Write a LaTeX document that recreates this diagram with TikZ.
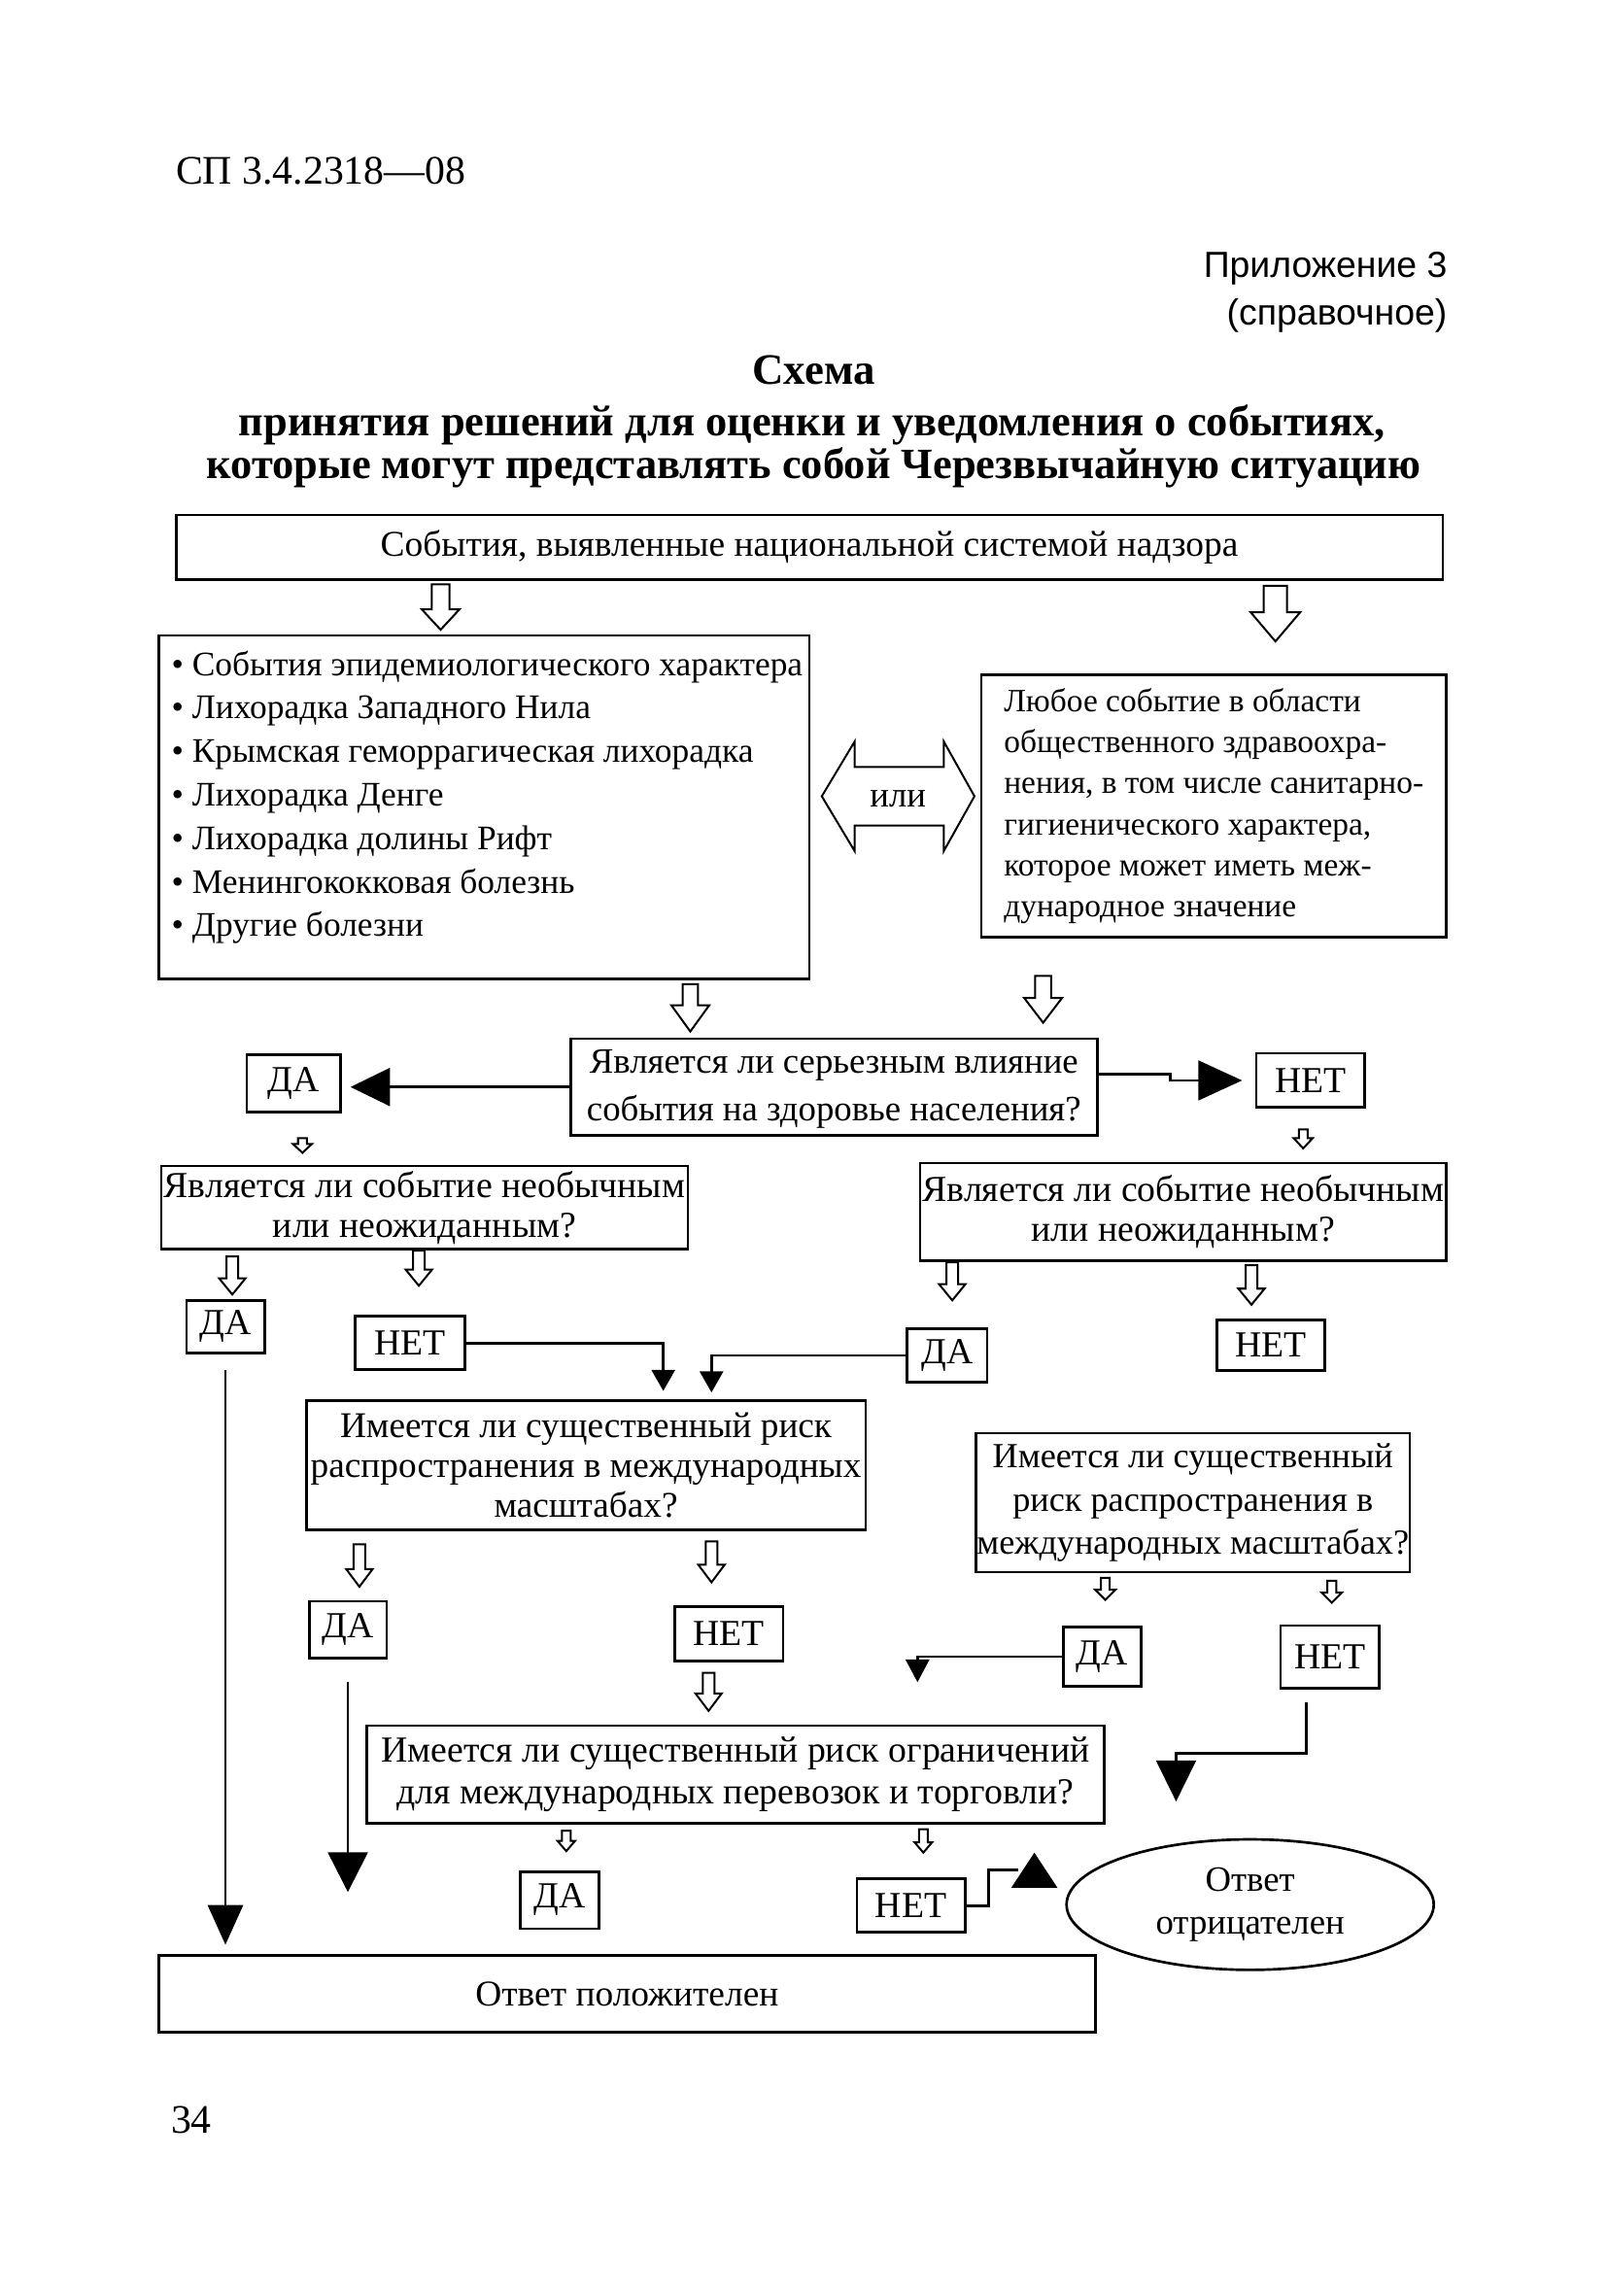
\documentclass[tikz,border=0pt]{standalone}
\usepackage{fontspec}
\setmainfont{Liberation Serif}
\newfontfamily\sansf{Liberation Sans}
\usetikzlibrary{arrows.meta,shapes.geometric}
\newcommand\fsz[2]{\fontsize{#1}{#2}\selectfont}
% hollow block arrow: x, ytop, ybot, shaft half width, head half width, head length
\newcommand\holarrow[6]{%
  \draw[holl] ({#1-#4},#2) -- ({#1+#4},#2) -- ({#1+#4},{#3-#6}) -- ({#1+#5},{#3-#6}) -- (#1,#3)
    -- ({#1-#5},{#3-#6}) -- ({#1-#4},{#3-#6}) -- cycle;}
% box node from corners: [style]{name}{x1}{y1}{x2}{y2}{text}
\newcommand\bxnode[7][]{%
  \node[box,#1,minimum width={(#5-#3)*0.45pt},minimum height={(#6-#4)*0.45pt}]
    (#2) at ({(#3+#5)/2},{(#4+#6)/2}) {#7};}
\begin{document}
\begin{tikzpicture}[x=0.45pt,y=-0.45pt,
  box/.style={draw,line width=0.8pt,inner sep=0pt,align=center,font=\fsz{11.2}{13}},
  lab/.style={font=\fsz{11.3}{13}},
  holl/.style={line width=0.6pt,line join=miter},
  conn/.style={line width=0.8pt}]
\useasboundingbox (0,0) rectangle (1100,1571.5);

% header
\node[anchor=west,inner sep=0,font=\fsz{12.5}{15}] (sp) at (120,117) {СП 3.4.2318—08};
\node[anchor=east,inner sep=0,font=\sansf\fsz{11.2}{13}] (app1) at (991,184) {Приложение 3};
\node[anchor=east,inner sep=0,font=\sansf\fsz{11.2}{13}] (app2) at (991,216) {(справочное)};
\node[inner sep=0,font=\bfseries\fsz{13.4}{16}] (h1) at (557,253) {Схема};
\node[inner sep=0,font=\bfseries\fsz{13.3}{16}] (h2) at (556,291) {принятия решений для оценки и уведомления о событиях,};
\node[inner sep=0,font=\bfseries\fsz{13.3}{16}] (h3) at (557,320) {которые могут представлять собой Черезвычайную ситуацию};

% boxes
\bxnode{top}{120.5}{352.4}{987.6}{396.7}{События, выявленные национальной системой надзора}
\bxnode{list}{108.6}{435}{554}{670}{}
\node[anchor=north west,inner sep=0,align=left,font=\fsz{10.6}{13.4}] (listtxt) at (117,445)
  {• События эпидемиологического характера\\
   • Лихорадка Западного Нила\\
   • Крымская геморрагическая лихорадка\\
   • Лихорадка Денге\\
   • Лихорадка долины Рифт\\
   • Менингококковая болезнь\\
   • Другие болезни};
\bxnode[align=left,font=\fsz{10}{12.65}]{any}{671.6}{462}{990}{641.6}
  {Любое событие в области\\
   общественного здравоохра-\\
   нения, в том числе санитарно-\\
   гигиенического характера,\\
   которое может иметь меж-\\
   дународное значение}
% "или" double arrow
\draw[holl] (562.5,545) -- (585,507.5) -- (585,525) -- (646,525) -- (646,507.5) -- (667,545)
  -- (646,582.5) -- (646,565) -- (585,565) -- (585,582.5) -- cycle;
\node[inner sep=0,font=\fsz{11}{13}] (ili) at (614.7,547) {или};

\bxnode[font=\fsz{11}{15}]{q1}{390.6}{711}{751}{777}{\raisebox{-2pt}{\begin{tabular}{@{}c@{}}Является ли серьезным влияние\\[-0.2pt] события на здоровье населения?\end{tabular}}}
\bxnode[lab]{da1}{169}{722}{233}{761}{ДА}
\bxnode[lab]{net1}{860}{721}{934}{758}{НЕТ}
\bxnode[font=\fsz{11.3}{12.2}]{q2l}{110.4}{798}{470.8}{855}{Является ли событие необычным\\ или неожиданным?}
\bxnode[font=\fsz{11.3}{12.2}]{q2r}{629.8}{796}{990}{863}{Является ли событие необычным\\ или неожиданным?}
\bxnode[lab]{da2}{127.6}{890}{181}{926}{ДА}
\bxnode[lab]{net2}{243}{901}{318}{937.5}{НЕТ}
\bxnode[lab]{da3}{621}{909.6}{675.6}{946}{ДА}
\bxnode[lab]{net3}{833}{903.6}{907}{938}{НЕТ}
\bxnode[font=\fsz{11.15}{12.3}]{q3}{209.6}{958.5}{592.5}{1047}{Имеется ли существенный риск\\ распространения в международных\\ масштабах?}
\bxnode[font=\fsz{10.85}{13.3}]{q4}{668}{981}{965}{1076}{Имеется ли существенный\\ риск распространения в\\ международных масштабах?}
\bxnode[lab]{da4}{211.6}{1096}{264.6}{1135}{ДА}
\bxnode[lab]{net4}{461.8}{1099.6}{536}{1137}{НЕТ}
\bxnode[lab]{da5}{727.8}{1113.7}{781}{1154}{ДА}
\bxnode[lab]{net5}{876.5}{1112.6}{944}{1155.6}{НЕТ}
\bxnode[font=\fsz{11.3}{12.9}]{q5}{251}{1181}{755.7}{1248}{Имеется ли существенный риск ограничений\\ для международных перевозок и торговли?}
\bxnode[lab]{da6}{356}{1281}{410}{1320}{ДА}
\bxnode[lab]{net6}{586.5}{1286}{660.7}{1322.6}{НЕТ}
\node[draw,ellipse,line width=0.8pt,inner sep=0,minimum width=113.1pt,minimum height=40.2pt,align=center,font=\fsz{11}{13}] (neg) at (855.7,1303.6) {Ответ\\ отрицателен};
\bxnode{pos}{108.6}{1338.6}{749.8}{1391}{\raisebox{-3.6pt}{Ответ положителен}}
\node[inner sep=0,font=\fsz{12.5}{15}] (pg) at (131,1451) {34};

% hollow arrows
\holarrow{301.6}{400}{431}{6}{13}{14}
\holarrow{873}{401}{439}{8}{17}{20}
\holarrow{472.5}{673.6}{706}{5.3}{13}{18}
\holarrow{714}{668}{700}{5.5}{13}{17}
\holarrow{207}{779}{789}{3}{6.5}{6}
\holarrow{892}{773}{786}{3}{6.5}{7}
\holarrow{159}{860}{886}{4}{9}{11}
\holarrow{286.7}{856}{880}{4}{9}{11}
\holarrow{651.8}{864}{890}{4}{9}{11}
\holarrow{856.6}{866}{893}{4}{9}{11}
\holarrow{246}{1057}{1086}{4}{9}{12}
\holarrow{487}{1055}{1083}{4}{9}{12}
\holarrow{485}{1145}{1171}{4}{9}{12}
\holarrow{756.6}{1080}{1095}{3}{7}{7}
\holarrow{911.6}{1082}{1097}{3}{7}{7}
\holarrow{387.6}{1253}{1267}{3}{6}{7}
\holarrow{632}{1252}{1268}{3}{6}{7}

% filled connectors
\draw[conn,-{Triangle[length=12.2pt,width=11.7pt]},shorten >=2.7pt] (q1.west) -- (q1.west -| da1.east);
\draw[conn,-{Triangle[length=13.5pt,width=12.2pt]},shorten >=4pt] ([yshift=4pt]q1.east) -- ++(49,0) |- (net1.west);
\coordinate (t1) at (454,952);
\coordinate (t2) at (487,953);
\draw[conn,-{Triangle[length=6.5pt,width=7.2pt]}] (net2.east) -| (t1);
\draw[conn,-{Triangle[length=6.5pt,width=7.2pt]}] (da3.west) -| (t2);
\draw[conn,-{Triangle[length=12.2pt,width=10.8pt]},shorten <=5pt,shorten >=3pt] (da2.south) -- (da2.south |- pos.north);
\draw[conn,-{Triangle[length=12.2pt,width=12.2pt]},shorten <=6.8pt] (da4.south) -- (da4.south |- 0,1295);
\coordinate (t4) at (628,1151.4);
\draw[conn,-{Triangle[length=7pt,width=7.2pt]}] (da5.west) -| (t4);
\coordinate (t5) at (805,1233);
\draw[conn,-{Triangle[length=12.6pt,width=12.2pt]}] ([xshift=-7.2pt,yshift=-3.8pt]net5.south) -- ++(0,35) -| (t5);
\coordinate (t6) at (708,1268);
\draw[conn] (net6.east) -- ++(15,0) |- (697,1280);
\draw[conn,-{Triangle[length=10.8pt,width=14pt]}] (708,1292) -- (t6);
\end{tikzpicture}
\end{document}
